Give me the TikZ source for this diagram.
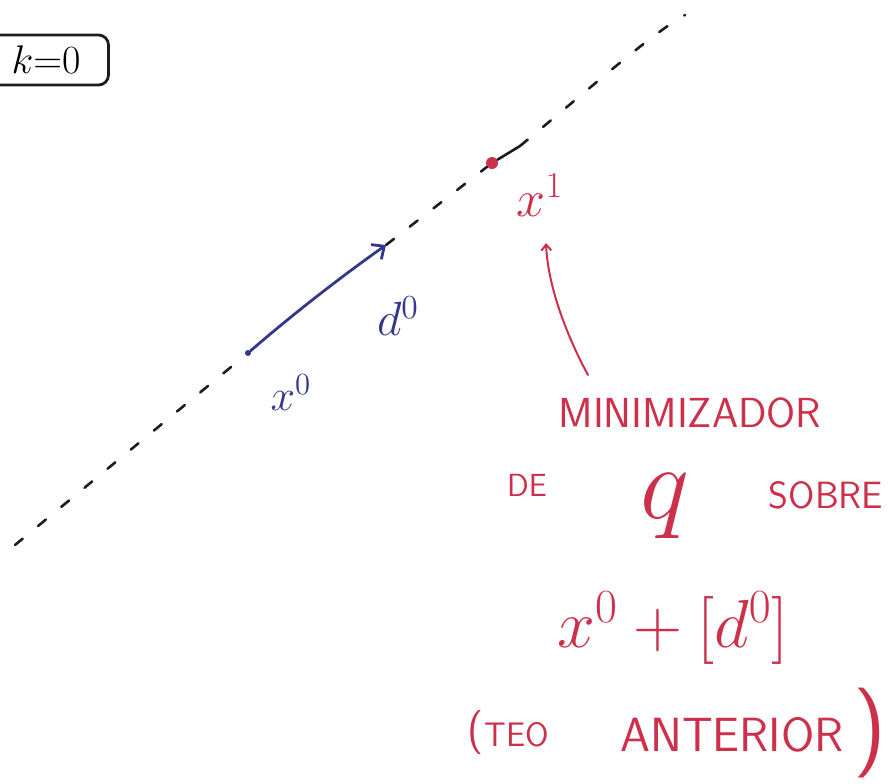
\RequirePackage{fix-cm}
\documentclass[tikz,border=0pt]{standalone}
\usepackage{tikz}
\usetikzlibrary{arrows.meta,positioning}
\definecolor{penred}{RGB}{204,48,74}
\definecolor{penblue}{RGB}{52,56,138}
\definecolor{penink}{RGB}{28,28,36}

\begin{document}
\begin{tikzpicture}[x=0.5pt,y=-0.5pt,line cap=round,
lbl/.style={inner sep=0pt, text=penblue},
note/.style={inner sep=0pt, text=penred, font=\sffamily\fontsize{#1}{#1}\selectfont},
dot/.style={circle, inner sep=0pt, minimum size=#1},
guide/.style={penink, line width=1.3pt, dash pattern=on 5pt off 10pt}]
\useasboundingbox (0,0) rectangle (890,783);
\clip (0,0) rectangle (890,783);
\node[draw=penink, line width=1.4pt, rounded corners=5pt, minimum width=62.5pt,
  minimum height=25pt, font=\fontsize{20}{20}\selectfont] (kbox) at (46,60) {$k{=}0$};
\coordinate (lo) at (15,545);
\coordinate (tip) at (386,245);
\coordinate (seg) at (520,146);
\coordinate (hi) at (685,15);
\node[dot=3pt, fill=penblue] (x0) at (248,353) {};
\node[dot=6pt, fill=penred] (x1) at (492,163) {};
\draw[guide] (lo) -- (x0);
\draw[guide] (tip) -- (x1);
\draw[penink, line width=1.3pt] (x1) -- (seg);
\draw[guide] (seg) .. controls (600,80) and (650,35) .. (hi);
\draw[penblue, line width=1.4pt, -{Straight Barb[length=5pt,width=9pt]}]
  (x0) .. controls (292,315) and (338,279) .. (tip);
\node[lbl, font=\fontsize{22}{22}\selectfont] (x0lbl) at (291,393) {$x^0$};
\node[lbl, font=\fontsize{24}{24}\selectfont] (d0lbl) at (398,316) {$d^0$};
\node[inner sep=0pt, text=penred, font=\fontsize{26}{26}\selectfont] (x1lbl) at (540,195) {$x^1$};
\coordinate (mtail) at (588,375);
\coordinate (mhead) at (546,243);
\draw[penred, line width=1pt, -{Straight Barb[length=3pt,width=5pt]}]
  (mtail) .. controls (570,342) and (548,290) .. (mhead);
\node[note=21] (minlbl) at (690,413) {MINIMIZADOR};
\node[note=16] (delbl) at (527,485) {DE};
\node[inner sep=0pt, text=penred, font=\fontsize{52}{52}\selectfont] (qlbl) at (665,506) {$q$};
\node[note=19] (sobrelbl) at (826,495) {SOBRE};
\node[inner sep=0pt, text=penred, font=\fontsize{34}{34}\selectfont] (sumlbl) at (673,628) {$x^0+[d^0]$};
\node[note=22] (lpar) at (476,733) {(};
\node[note=17] (teolbl) at (517,735) {TEO};
\node[note=24] (antlbl) at (732,735) {ANTERIOR};
\node[note=45] (rpar) at (870,733) {)};
\end{tikzpicture}
\end{document}
